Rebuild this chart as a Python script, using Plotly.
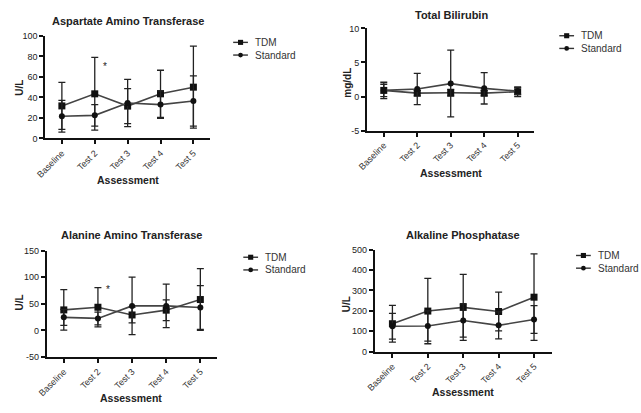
import plotly.graph_objects as go

W, H = 641, 413

categories = ["Baseline", "Test 2", "Test 3", "Test 4", "Test 5"]
series_names = ["TDM", "Standard"]

# Aspartate Amino Transferase (U/L)
ast_tdm = [31.7, 43.5, 31.5, 43.5, 50.0]
ast_tdm_sd = [23.0, 35.5, 17.0, 23.0, 40.0]
ast_std = [21.6, 22.5, 34.5, 33.0, 36.5]
ast_std_sd = [15.5, 10.5, 23.0, 13.5, 24.5]
ast_ticks = [0, 20, 40, 60, 80, 100]
ast_ticktext = ["0", "20", "40", "60", "80", "100"]

# Total Bilirubin (mg/dL)
tb_tdm = [0.9, 0.5, 0.55, 0.5, 0.7]
tb_tdm_sd = [1.2, 0.4, 0.5, 0.4, 0.7]
tb_std = [0.9, 1.1, 1.9, 1.2, 0.8]
tb_std_sd = [0.9, 2.3, 4.9, 2.3, 0.5]
tb_ticks = [-5, 0, 5, 10]
tb_ticktext = ["-5", "0", "5", "10"]

# Alanine Amino Transferase (U/L)
alt_tdm = [38.5, 43.5, 29.0, 38.0, 58.0]
alt_tdm_sd = [38.0, 37.0, 15.0, 19.5, 58.0]
alt_std = [24.5, 22.5, 46.0, 46.0, 43.0]
alt_std_sd = [15.0, 12.0, 54.0, 41.0, 41.0]
alt_ticks = [-50, 0, 50, 100, 150]
alt_ticktext = ["-50", "0", "50", "100", "150"]

# Alkaline Phosphatase (U/L)
alp_tdm = [137, 199, 217, 197, 267]
alp_tdm_sd = [90, 160, 162, 95, 212]
alp_std = [125, 126, 153, 129, 158]
alp_std_sd = [63, 74, 82, 66, 68]
alp_ticks = [0, 100, 200, 300, 400, 500]
alp_ticktext = ["0", "100", "200", "300", "400", "500"]

panels = [
    dict(title="Aspartate Amino Transferase", ylab="U/L", yr=[0, 100],
         tv=ast_ticks, tt=ast_ticktext,
         data=[(ast_tdm, ast_tdm_sd), (ast_std, ast_std_sd)],
         px=(36, 203), py=(31.7, 136.7), star=("*", 1.3, 70),
         tpos=(120, 16), apos=(120, 179), ypos=(10, 85), leg=(226.7, 38.3)),
    dict(title="Total Bilirubin", ylab="mg/dL", yr=[-5, 10],
         tv=tb_ticks, tt=tb_ticktext,
         data=[(tb_tdm, tb_tdm_sd), (tb_std, tb_std_sd)],
         px=(362.7, 532.7), py=(24, 128.7), star=None,
         tpos=(448, 10), apos=(448, 172), ypos=(342, 80), leg=(558, 31.5)),
    dict(title="Alanine Amino Transferase", ylab="U/L", yr=[-50, 150],
         tv=alt_ticks, tt=alt_ticktext,
         data=[(alt_tdm, alt_tdm_sd), (alt_std, alt_std_sd)],
         px=(37.3, 210.7), py=(251.7, 360.7), star=("*", 1.3, 76),
         tpos=(123, 236), apos=(123, 403), ypos=(10, 305), leg=(237, 258.5)),
    dict(title="Alkaline Phosphatase", ylab="U/L", yr=[0, 500],
         tv=alp_ticks, tt=alp_ticktext,
         data=[(alp_tdm, alp_tdm_sd), (alp_std, alp_std_sd)],
         px=(370.5, 550.3), py=(250.7, 355.3), star=("**", 4.55, 470),
         tpos=(460, 236), apos=(460, 397), ypos=(342, 307), leg=(575, 256.7)),
]

symbols = ["square", "circle"]
msize = [7, 6]
FONT = "Liberation Sans, Arial, sans-serif"

fig = go.Figure()
annotations = []
shapes = []

for i, p in enumerate(panels):
    k = "" if i == 0 else str(i + 1)
    xa, ya = "x" + k, "y" + k
    for j, (vals, sd) in enumerate(p["data"]):
        fig.add_trace(go.Scatter(
            x=categories, y=vals, xaxis=xa, yaxis=ya, mode="lines+markers",
            name=series_names[j], showlegend=False,
            line=dict(color="#444444", width=1.6),
            marker=dict(symbol=symbols[j], size=msize[j], color="#111111"),
            error_y=dict(type="data", array=sd, visible=True, color="#222222",
                         thickness=1.3, width=3.5),
            cliponaxis=False,
        ))
    x0, x1 = p["px"]
    yt, yb = p["py"]
    dom_x = [x0 / W, x1 / W]
    dom_y = [1 - yb / H, 1 - yt / H]
    fig.layout["xaxis" + k] = dict(
        domain=dom_x, anchor=ya, type="category", range=[-0.5, 4.5],
        showline=True, linecolor="#111111", linewidth=2, ticks="outside",
        ticklen=4, tickwidth=1.5, tickcolor="#111111", tickangle=-45,
        tickfont=dict(family=FONT, size=9, color="#333333"),
        showgrid=False, zeroline=False, fixedrange=True)
    fig.layout["yaxis" + k] = dict(
        domain=dom_y, anchor=xa, range=p["yr"], tickmode="array",
        tickvals=p["tv"], ticktext=p["tt"],
        showline=True, linecolor="#111111", linewidth=2, ticks="outside",
        ticklen=4, tickwidth=1.5, tickcolor="#111111",
        tickfont=dict(family=FONT, size=9, color="#222222"),
        showgrid=False, zeroline=False, fixedrange=True)
    tx, ty = p["tpos"]
    annotations.append(dict(text="<b>%s</b>" % p["title"], x=tx / W, y=1 - ty / H,
                            xref="paper", yref="paper", showarrow=False,
                            font=dict(family=FONT, size=11, color="#222222"),
                            xanchor="center", yanchor="middle"))
    ax_, ay_ = p["apos"]
    annotations.append(dict(text="<b>Assessment</b>", x=ax_ / W, y=1 - ay_ / H,
                            xref="paper", yref="paper", showarrow=False,
                            font=dict(family=FONT, size=10.5, color="#222222"),
                            xanchor="center", yanchor="middle"))
    yx, yy = p["ypos"]
    annotations.append(dict(text="<b>%s</b>" % p["ylab"], x=yx / W, y=1 - yy / H,
                            xref="paper", yref="paper", showarrow=False, textangle=-90,
                            font=dict(family=FONT, size=10, color="#222222"),
                            xanchor="center", yanchor="middle"))
    if p["star"]:
        s, sx, sy = p["star"]
        annotations.append(dict(text=s, x=sx, y=sy, xref=xa, yref=ya, showarrow=False,
                                font=dict(family=FONT, size=10, color="#222222"),
                                xanchor="center", yanchor="middle"))
    lx, ly = p["leg"]
    for j, name in enumerate(series_names):
        yy_ = ly + j * 13
        shapes.append(dict(type="line", xref="paper", yref="paper",
                           x0=lx / W, x1=(lx + 15) / W, y0=1 - yy_ / H, y1=1 - yy_ / H,
                           line=dict(color="#333333", width=1.4)))
        r = 2.6 if j == 0 else 2.4
        cx = lx + 7.5
        shapes.append(dict(type="rect" if j == 0 else "circle", xref="paper", yref="paper",
                           x0=(cx - r) / W, x1=(cx + r) / W,
                           y0=1 - (yy_ + r) / H, y1=1 - (yy_ - r) / H,
                           fillcolor="#111111", line=dict(width=0)))
        annotations.append(dict(text=name, x=(lx + 20) / W, y=1 - yy_ / H,
                                xref="paper", yref="paper", showarrow=False,
                                font=dict(family=FONT, size=10, color="#333333"),
                                xanchor="left", yanchor="middle"))

fig.update_layout(
    width=W, height=H, margin=dict(l=0, r=0, t=0, b=0),
    paper_bgcolor="white", plot_bgcolor="white",
    showlegend=False, annotations=annotations, shapes=shapes,
    font=dict(family=FONT),
)

fig.write_html("out.html", config={"displayModeBar": False},
               post_script="document.body.style.margin='0';document.body.style.overflow='hidden';")
